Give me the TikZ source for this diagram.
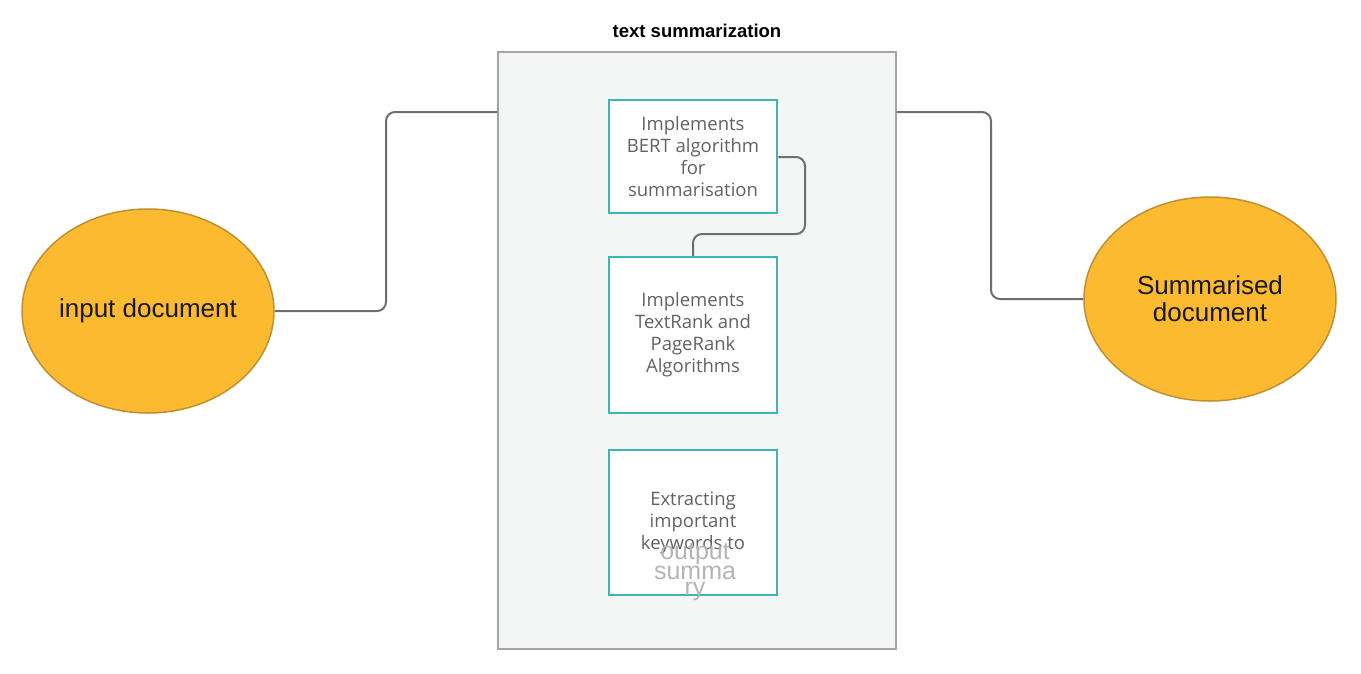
\documentclass[tikz,border=0pt]{standalone}
\usepackage{fontspec}
\setmainfont{Liberation Sans}
\newfontfamily\boxfont{Open Sans}
\usetikzlibrary{shapes.geometric}
\definecolor{ellfill}{HTML}{FBBA30}
\definecolor{elldraw}{HTML}{C09030}
\definecolor{teal}{HTML}{3DB6B2}
\definecolor{contfill}{HTML}{F4F6F6}
\definecolor{contdraw}{HTML}{A4A4A4}
\definecolor{wire}{HTML}{6E6E6E}
\definecolor{boxtext}{HTML}{626262}
\definecolor{ghost}{HTML}{B4B4B4}
\tikzset{
  docell/.style={ellipse, draw=elldraw, line width=1.5pt, fill=ellfill, minimum width=252pt, minimum height=204pt, inner sep=0pt, align=center, font=\fontsize{26}{27}\selectfont, text=black!90},
  algbox/.style={draw=teal, line width=2.5pt, fill=white, minimum width=168pt, inner sep=0pt, align=center, text=boxtext, font=\boxfont\fontsize{18.5}{22}\selectfont},
  wireline/.style={draw=wire, line width=2pt, rounded corners=9pt}
}
\begin{document}
\begin{tikzpicture}[x=1pt,y=-1pt]
\useasboundingbox (0,0) rectangle (1361,673);
\node[draw=contdraw, line width=1.5pt, fill=contfill, minimum width=398pt, minimum height=597pt, inner sep=0pt] (cont) at (697,350.5) {};
\node[font=\bfseries\fontsize{18.5}{20}\selectfont] (title) at (697,31) {text summarization};
\node[algbox, minimum height=113pt] (b1) at (693,156.5) {Implements\\BERT algorithm\\for\\summarisation};
\node[algbox, minimum height=156pt] (b2) at (693,335) {Implements\\TextRank and\\PageRank\\Algorithms};
\node[algbox, minimum height=145pt] (b3) at (693,522.5) {};
\node[align=center, text=boxtext, font=\boxfont\fontsize{18.5}{22}\selectfont] (b3t) at (693,523) {Extracting\\important\\keywords to};
\node[align=center, text=ghost, font=\fontsize{25}{16}\selectfont] (ghostt) at (695,572) {output\\summa\\ry};
\node[docell] (in) at (148,311) {input document};
\node[docell] (out) at (1210,299) {Summarised\\document};
\coordinate (c1) at (386,112);
\coordinate (c2) at (991,112);
\draw[wireline] (in.east) -| (c1) -- (cont.west |- c1);
\draw[wireline] (cont.east |- c2) -| (out.west -| 991,0) -- (out.west);
\draw[wireline] (b1.east |- 0,157) -| (805,234) -| (b2.north);
\end{tikzpicture}
\end{document}
